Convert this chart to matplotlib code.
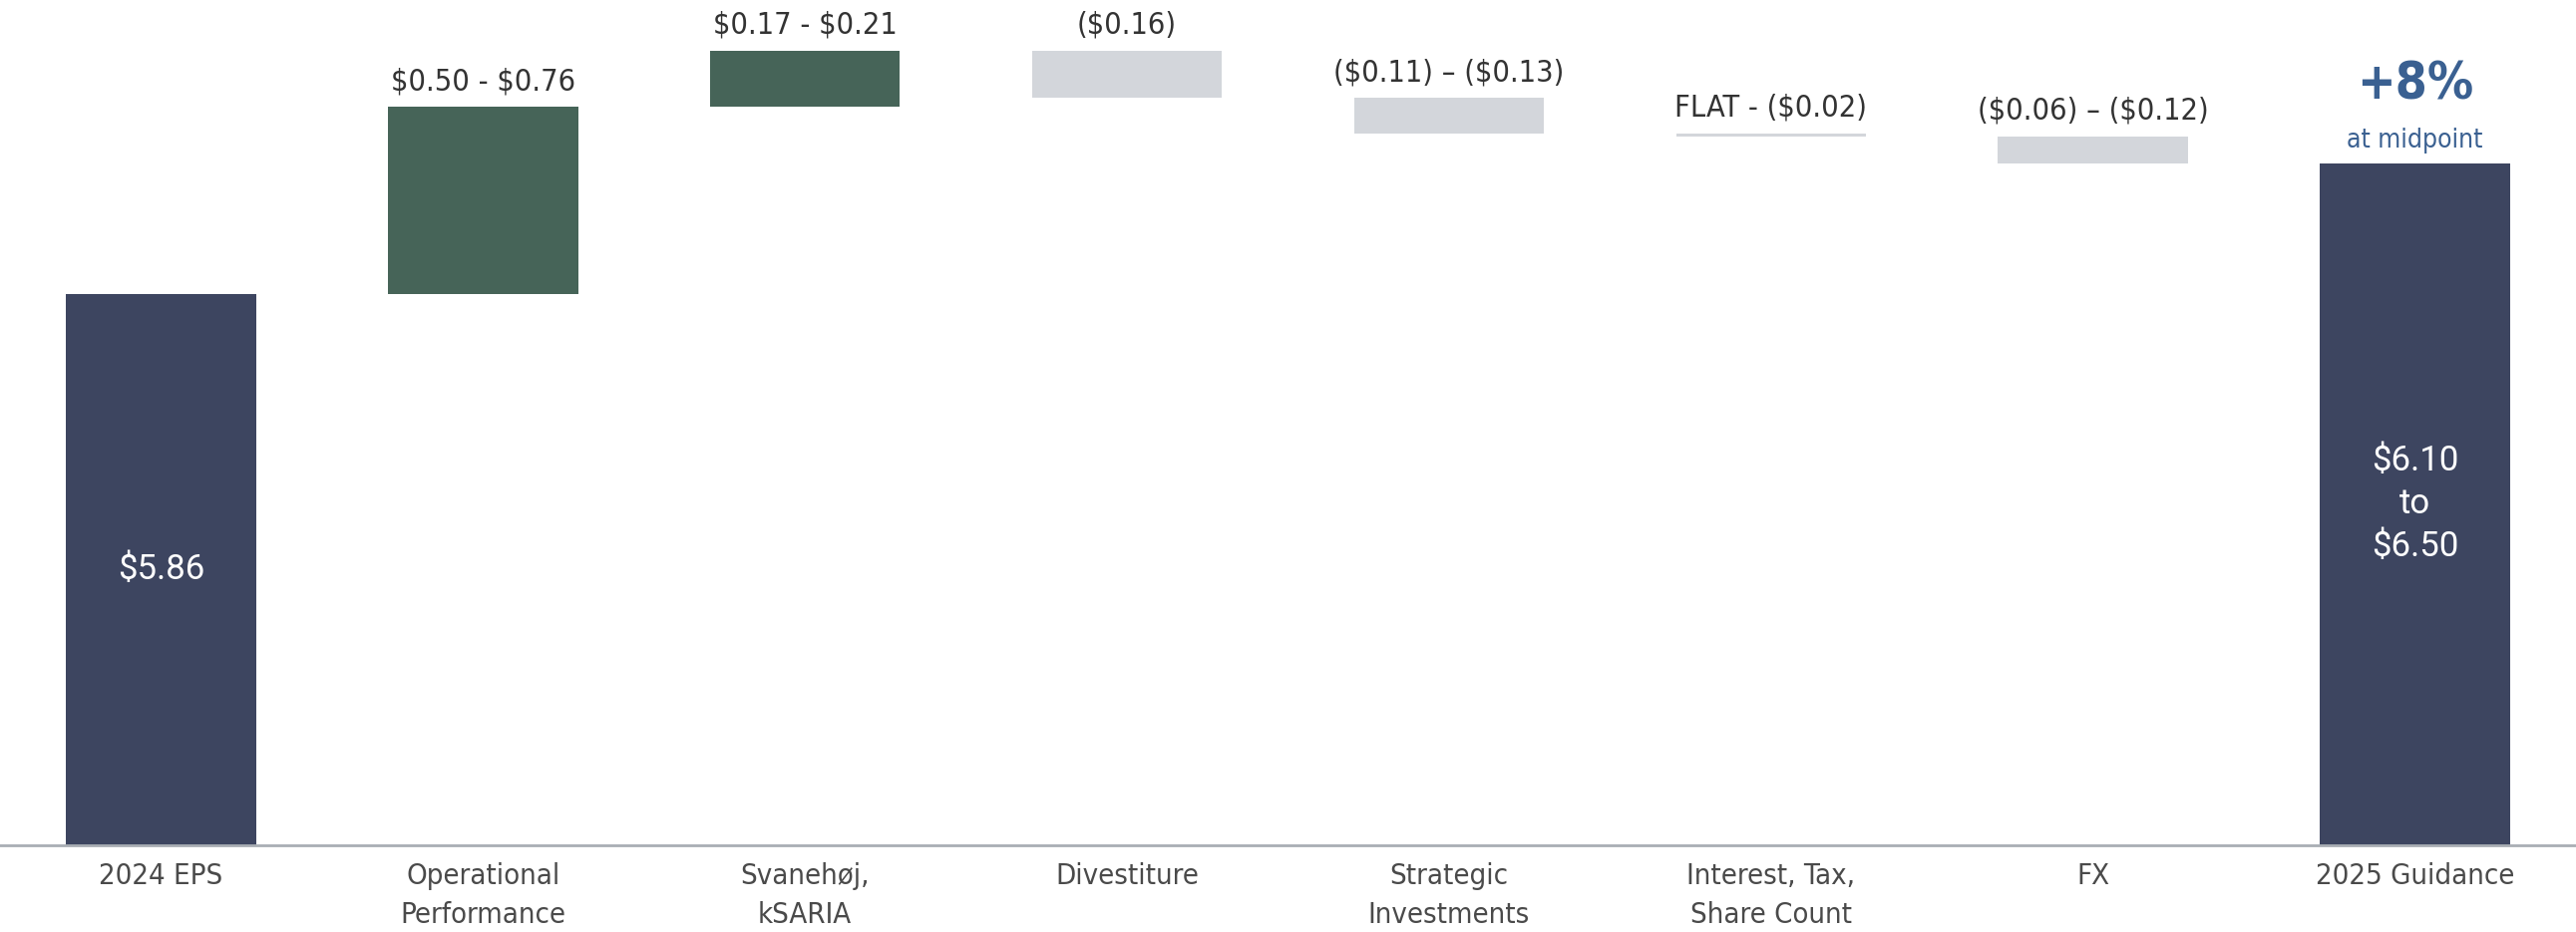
import matplotlib
matplotlib.use("Agg")
import matplotlib.pyplot as plt
import numpy as np

# categories of the EPS bridge
categories = ["2024 EPS", "Operational\nPerformance", "Svanehøj,\nkSARIA", "Divestiture",
              "Strategic\nInvestments", "Interest, Tax,\nShare Count", "FX", "2025 Guidance"]
# start value, then midpoint of each guided range (bars are drawn at midpoints)
start_eps = 5.86
step_mid = [0.63, 0.19, -0.16, -0.12, -0.01, -0.09]
value_labels = [r"\$5.86", r"\$0.50 - \$0.76", r"\$0.17 - \$0.21", r"(\$0.16)",
                r"(\$0.11) – (\$0.13)", r"FLAT - (\$0.02)", r"(\$0.06) – (\$0.12)",
                "\\$6.10\nto\n\\$6.50"]
axis_floor = 4.0   # axis is truncated, bars start here

NAVY = "#3d4560"
GREEN = "#466458"
GREY = "#d3d6db"
TEXT = "#333333"
BLUE = "#3a6091"

narrow = dict(family="DejaVu Sans", fontstretch="condensed")
plain = ["Roboto", "DejaVu Sans"]

fig = plt.figure(figsize=(25.83, 9.35), dpi=100)
ax = fig.add_axes([0, 87 / 935, 1, 848 / 935])

n = len(categories)
x = np.arange(n)
bw = 0.59

# running totals
bottoms = []
heights = []
colors = []
level = start_eps
bottoms.append(axis_floor)
heights.append(start_eps - axis_floor)
colors.append(NAVY)
for s in step_mid:
    new = level + s
    bottoms.append(min(level, new))
    heights.append(abs(s))
    colors.append(GREEN if s > 0 else GREY)
    level = new
end_eps = level
bottoms.append(axis_floor)
heights.append(end_eps - axis_floor)
colors.append(NAVY)

ax.bar(x, heights, bottom=bottoms, width=bw, color=colors, zorder=1)

# labels above the step bars
for i in range(1, n - 1):
    top = bottoms[i] + heights[i]
    ax.annotate(value_labels[i], (x[i], top), xytext=(0, 8), textcoords="offset points",
                ha="center", va="bottom", fontsize=22, color=TEXT, **narrow)

# white labels inside the totals
for i in (0, n - 1):
    mid = bottoms[i] + heights[i] / 2
    ax.text(x[i], mid, value_labels[i], ha="center", va="center", fontsize=25,
            color="white", family=plain, linespacing=1.38)

growth = end_eps / start_eps - 1
gtop = bottoms[-1] + heights[-1]
ax.annotate("at midpoint", (x[-1], gtop), xytext=(0, 7), textcoords="offset points",
            ha="center", va="bottom", fontsize=19, color=BLUE, **narrow)
ax.annotate("+%d%%" % round(growth * 100 + 0.01), (x[-1], gtop), xytext=(0, 38),
            textcoords="offset points", ha="center", va="bottom", fontsize=37,
            color=BLUE, fontweight="bold", **narrow)

ax.set_xlim(-0.5, n - 0.5)
ax.set_ylim(axis_floor, 6.85)
ax.set_xticks(x)
ax.set_xticklabels(categories, fontsize=21, color="#4a4a4a", linespacing=1.5, **narrow)
ax.tick_params(axis="x", length=0, pad=12)
ax.set_yticks([])
for side in ("left", "right", "top"):
    ax.spines[side].set_visible(False)
ax.spines["bottom"].set_color("#a9aeb4")
ax.spines["bottom"].set_linewidth(2)

fig.savefig("out.png", dpi=100)
